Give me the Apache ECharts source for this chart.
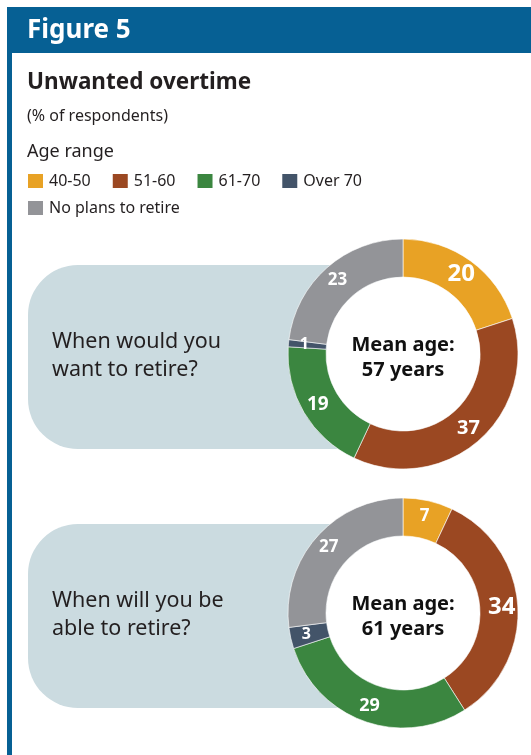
<!DOCTYPE html>
<html>
<head>
<meta charset="utf-8">
<script src="https://cdn.jsdelivr.net/npm/echarts@6/dist/echarts.min.js"></script>
<style>
  html, body { margin: 0; padding: 0; background: #fff; }
  #chart { width: 531px; height: 755px; }
</style>
</head>
<body>
<div id="chart"></div>
<script>
// Age-range categories shared by both donuts
const ageRanges = ['40-50', '51-60', '61-70', 'Over 70', 'No plans to retire'];

// % of respondents per age range
const wantToRetire = [20, 37, 19, 1, 23];
const ableToRetire = [7, 34, 29, 3, 27];

// Mean retirement age for each question
const meanAges = [57, 61];

// Questions shown beside each donut
const questions = ['When would you\nwant to retire?', 'When will you be\nable to retire?'];

// ---- styling ----
const colors = ['#e8a225', '#9b4822', '#3b8640', '#435469', '#939498'];
const INK = '#231f20';
const BLUE = '#066094';
const PANEL = '#cbdbe0';
const FONT = '"Noto Sans", "DejaVu Sans", sans-serif';
const donutCenters = [[403, 354], [403, 613]];
const R_IN = 77, R_OUT = 115;
// slice label sizes, larger on the big slices
const labelPx = [[24, 20, 19, 16, 17], [17, 24, 18, 16, 17]];

const chart = echarts.init(document.getElementById('chart'), null, { renderer: 'canvas' });

function donut(values, idx) {
  return {
    type: 'pie',
    z: 3,
    center: donutCenters[idx],
    radius: [R_IN, R_OUT],
    startAngle: 90,
    clockwise: true,
    avoidLabelOverlap: false,
    silent: true,
    itemStyle: { borderColor: '#ffffff', borderWidth: 0.6 },
    label: {
      show: true,
      position: 'inside',
      formatter: '{c}',
      color: '#ffffff',
      fontFamily: FONT,
      fontWeight: 'bold'
    },
    labelLine: { show: false },
    data: values.map((v, i) => ({
      name: ageRanges[i],
      value: v,
      itemStyle: { color: colors[i] },
      label: { fontSize: labelPx[idx][i] }
    }))
  };
}

// white disc filling the donut hole, over the question panel
function hole(idx) {
  return {
    type: 'pie',
    z: 2,
    center: donutCenters[idx],
    radius: [0, R_IN],
    silent: true,
    label: { show: false },
    labelLine: { show: false },
    itemStyle: { color: '#ffffff' },
    data: [{ name: 'hole' + idx, value: 1 }]
  };
}

function panel(idx, dy) {
  const [cx, cy] = donutCenters[idx];
  return [
    {
      type: 'rect', z: 0,
      shape: { x: 28, y: cy - 89, width: cx - 28, height: 184, r: [50, 0, 0, 50] },
      style: { fill: PANEL }
    },
    {
      type: 'text', z: 1,
      style: {
        x: 52, y: cy + dy, text: questions[idx],
        font: '21.5px ' + FONT, fill: INK,
        textVerticalAlign: 'middle', lineHeight: 28
      }
    },
    {
      type: 'text', z: 10,
      style: {
        x: cx, y: cy + 4, text: 'Mean age:\n' + meanAges[idx] + ' years',
        font: 'bold 20px ' + FONT, fill: '#111111',
        textAlign: 'center', textVerticalAlign: 'middle', lineHeight: 25
      }
    }
  ];
}

const legendText = { color: INK, fontFamily: FONT, fontSize: 16 };

const option = {
  animation: false,
  color: colors,
  legend: [
    {
      data: ageRanges.slice(0, 4),
      left: 26, top: 172, padding: 0,
      icon: 'rect', itemWidth: 17, itemHeight: 16, itemGap: 20,
      selectedMode: false,
      textStyle: legendText
    },
    {
      data: ageRanges.slice(4),
      left: 26, top: 199, padding: 0,
      icon: 'rect', itemWidth: 17, itemHeight: 16,
      selectedMode: false,
      textStyle: legendText
    }
  ],
  graphic: [
    { type: 'rect', z: 0, shape: { x: 7, y: 7, width: 524, height: 46 }, style: { fill: BLUE } },
    { type: 'rect', z: 0, shape: { x: 7, y: 53, width: 5, height: 702 }, style: { fill: BLUE } },
    {
      type: 'text', z: 1,
      style: { x: 27, y: 31, text: 'Figure 5', font: 'bold 26px ' + FONT, fill: '#ffffff', textVerticalAlign: 'middle' }
    },
    {
      type: 'text', z: 1,
      style: { x: 27, y: 83, text: 'Unwanted overtime', font: 'bold 22.5px ' + FONT, fill: INK, textVerticalAlign: 'middle' }
    },
    {
      type: 'text', z: 1,
      style: { x: 27, y: 116, text: '(% of respondents)', font: '16px ' + FONT, fill: INK, textVerticalAlign: 'middle' }
    },
    {
      type: 'text', z: 1,
      style: { x: 27, y: 152, text: 'Age range', font: '18px ' + FONT, fill: INK, textVerticalAlign: 'middle' }
    },
    ...panel(0, 2),
    ...panel(1, 2)
  ],
  series: [hole(0), donut(wantToRetire, 0), hole(1), donut(ableToRetire, 1)]
};

chart.setOption(option);
</script>
</body>
</html>
